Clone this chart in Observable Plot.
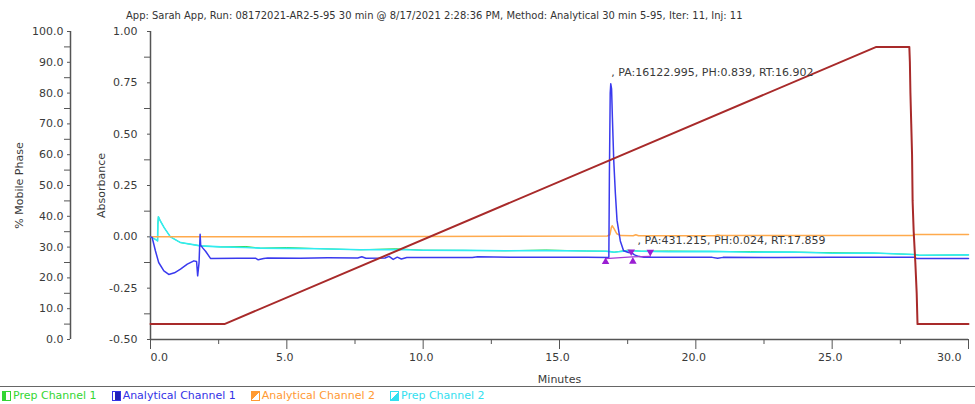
<!DOCTYPE html>
<html>
<head>
<meta charset="utf-8">
<script src="https://cdn.jsdelivr.net/npm/d3@7"></script>
<script src="https://cdn.jsdelivr.net/npm/@observablehq/plot@0.6"></script>
<style>
  html, body { margin: 0; padding: 0; background: #fff; }
  body { width: 975px; height: 404px; position: relative; overflow: hidden; font-family: "DejaVu Sans", sans-serif; }
  #title { position: absolute; left: 126px; top: 0; height: 24px; line-height: 32px; white-space: nowrap; color: #333; font-size: 11px; }
  #chart { position: absolute; left: 0; top: 24px; }
  #legend { position: absolute; left: 0; top: 386px; width: 975px; height: 18px; border-top: 1.5px solid #666; display: flex; align-items: center; padding-left: 2px; box-sizing: border-box; font-size: 11px; white-space: nowrap; }
  .item { display: inline-flex; align-items: center; margin-right: 15px; }
  .sw { display: inline-block; width: 7px; height: 8px; margin-right: 2px; box-sizing: content-box; }
</style>
</head>
<body>
<div id="title"></div>
<div id="chart"></div>
<div id="legend"></div>
<script>
// ---------- text ----------
const titleText = "App: Sarah App, Run: 08172021-AR2-5-95 30 min @ 8/17/2021 2:28:36 PM, Method: Analytical 30 min 5-95, Iter: 11, Inj: 11";

// ---------- ticks ----------
const xMajorTicks = [0, 5, 10, 15, 20, 25, 30];
const xMinorTicks = [2.5, 7.5, 12.5, 17.5, 22.5, 27.5];
const absMajorTicks = [-0.5, -0.25, 0, 0.25, 0.5, 0.75, 1.0];
const absMinorTicks = [-0.375, -0.125, 0.125, 0.375, 0.625, 0.875];
const mpMajorTicks = [0, 10, 20, 30, 40, 50, 60, 70, 80, 90, 100];
const mpMinorTicks = [5, 15, 25, 35, 45, 55, 65, 75, 85, 95];

// ---------- % Mobile Phase (gradient) ----------
const mpTime  = [0, 2.71, 26.62, 27.83, 27.85, 27.87, 27.90, 27.93, 27.95, 27.99, 28.05, 28.10, 28.13, 30.0];
const mpValue = [5, 5, 95, 95, 90, 80, 70, 60, 45, 35, 25, 15, 5, 5];

// ---------- Analytical Channel 1 (blue) ----------
const blueTime  = [0, 0.06, 0.18, 0.30, 0.49, 0.67, 0.88, 1.10, 1.35, 1.59, 1.69, 1.73, 1.78, 1.82, 1.84, 1.86, 1.92, 2.02, 2.20,
  3.20, 3.85, 3.95, 4.15, 4.30, 5.50, 6.50, 7.60, 7.75, 7.90, 8.60, 8.75, 8.90, 9.05, 9.20, 9.40, 10.5, 11.8, 12.0, 13.5, 15.0, 16.0,
  16.78, 16.81, 16.83, 16.86, 16.88, 16.91, 16.94, 16.99, 17.05, 17.11, 17.23, 17.35, 17.53, 17.65, 17.75, 17.90, 18.10,
  19.5, 20.6, 20.8, 21.0, 23.0, 25.0, 27.0, 28.0, 28.1, 30.0];
const blueValue = [0, -0.003, -0.068, -0.125, -0.166, -0.183, -0.175, -0.157, -0.133, -0.117, -0.120, -0.190, -0.127, 0.013, -0.040, -0.044, -0.055, -0.070, -0.105,
  -0.104, -0.104, -0.112, -0.106, -0.103, -0.104, -0.102, -0.103, -0.097, -0.104, -0.103, -0.095, -0.110, -0.099, -0.108, -0.101, -0.101, -0.101, -0.097, -0.100, -0.099, -0.100,
  -0.101, -0.100, 0.300, 0.700, 0.745, 0.720, 0.580, 0.370, 0.210, 0.080, -0.020, -0.068, -0.076, -0.078, -0.088, -0.095, -0.100,
  -0.100, -0.100, -0.104, -0.100, -0.101, -0.100, -0.100, -0.100, -0.105, -0.105];

// ---------- Analytical Channel 2 (orange) ----------
const orangeTime  = [0, 5, 10, 16.75, 16.85, 16.90, 16.93, 17.0, 17.1, 17.25, 17.7, 17.8, 17.9, 20.7, 20.8, 20.9, 27.95, 28.0, 30];
const orangeValue = [0, 0.001, 0.002, 0.004, 0.010, 0.045, 0.054, 0.040, 0.015, 0.006, 0.005, 0.010, 0.005, 0.005, 0.009, 0.006, 0.006, 0.011, 0.011];

// ---------- Prep Channel 2 (cyan) ----------
const cyanTime  = [0, 0.15, 0.26, 0.27, 0.29, 0.35, 0.50, 0.73, 1.10, 1.83, 2.57, 3.50, 4.03, 5.00, 6.23, 7.70, 9.00, 10.0, 11.5, 13.0, 14.5, 16.0, 16.7, 16.85, 17.0, 17.5, 18.0, 19.0, 20.5, 22.0, 23.5, 25.0, 26.5, 28.0, 28.2, 30.0];
const cyanValue = [0, -0.010, -0.020, 0.060, 0.098, 0.080, 0.045, 0.000, -0.028, -0.044, -0.049, -0.052, -0.055, -0.056, -0.058, -0.063, -0.062, -0.065, -0.066, -0.068, -0.067, -0.069, -0.070, -0.072, -0.075, -0.068, -0.070, -0.072, -0.071, -0.075, -0.074, -0.080, -0.079, -0.086, -0.090, -0.088];

// ---------- Prep Channel 1 (green, nearly identical, hidden under cyan) ----------
const greenTime  = [0, 0.15, 0.26, 0.27, 0.29, 0.35, 0.50, 0.73, 1.10, 1.83, 2.57, 3.50, 4.03, 5.00, 6.23, 7.70, 9.00, 10.0, 11.5, 13.0, 14.5, 16.0, 16.7, 16.85, 17.0, 17.5, 18.0, 19.0, 20.5, 22.0, 23.5, 25.0, 26.5, 28.0, 28.2, 30.0];
const greenValue = [0, -0.010, -0.020, 0.060, 0.098, 0.080, 0.045, 0.000, -0.028, -0.044, -0.049, -0.047, -0.055, -0.052, -0.058, -0.063, -0.058, -0.065, -0.066, -0.068, -0.064, -0.069, -0.070, -0.072, -0.075, -0.065, -0.070, -0.069, -0.071, -0.072, -0.074, -0.077, -0.079, -0.086, -0.090, -0.088];

// ---------- peak baseline events (purple) ----------
const baseTime  = [16.69, 17.66, 18.33];
const baseValue = [-0.106, -0.098, -0.095];
const upMarkTime = [16.69, 17.69];
const upMarkValue = [-0.122, -0.120];
const downMarkTime = [17.63, 18.33];
const downMarkValue = [-0.072, -0.074];

// ---------- annotations ----------
const annTime  = [16.902, 17.859];
const annValue = [0.80, -0.016];
const annText  = [", PA:16122.995, PH:0.839, RT:16.902", ", PA:431.215, PH:0.024, RT:17.859"];

// ---------- legend ----------
const legendNames  = ["Prep Channel 1", "Analytical Channel 1", "Analytical Channel 2", "Prep Channel 2"];
const legendColors = ["#33d633", "#3333e6", "#ff9a33", "#33e0f0"];

// ---------- build ----------
const toAbs = p => -0.5 + p * 0.015;
const series = (t, v) => t.map((x, i) => ({t: x, v: v[i]}));
const mpData = mpTime.map((x, i) => ({t: x, v: toAbs(mpValue[i])}));
const axisColor = "#555";

const chart = Plot.plot({
  width: 975,
  height: 362,
  marginLeft: 150,
  marginRight: 7,
  marginTop: 7,
  marginBottom: 47,
  style: {fontFamily: "DejaVu Sans, sans-serif", fontSize: "11px", color: "#3a3a3a", background: "#fff", overflow: "visible"},
  x: {domain: [0, 30]},
  y: {domain: [-0.5, 1.0]},
  marks: [
    // axis lines
    Plot.ruleX([0], {stroke: axisColor, strokeWidth: 1.5}),
    Plot.ruleX([0], {stroke: axisColor, strokeWidth: 1.5, dx: -80}),
    Plot.ruleY([-0.5], {stroke: axisColor, strokeWidth: 1.5}),
    // absorbance axis
    Plot.axisY(absMajorTicks, {anchor: "left", tickSize: 3, tickPadding: 10, tickFormat: d => d.toFixed(2), stroke: axisColor,
      label: "Absorbance", labelAnchor: "center", labelOffset: 53, labelArrow: "none"}),
    Plot.axisY(absMinorTicks, {anchor: "left", tickSize: 6, fill: "none", stroke: axisColor, label: null}),
    // % mobile phase axis
    Plot.axisY(mpMajorTicks.map(toAbs), {anchor: "left", dx: -80, tickSize: 3, tickPadding: 4, stroke: axisColor,
      tickFormat: d => ((d + 0.5) / 0.015).toFixed(1),
      label: "% Mobile Phase", labelAnchor: "center", labelOffset: 135, labelArrow: "none"}),
    Plot.axisY(mpMinorTicks.map(toAbs), {anchor: "left", dx: -80, tickSize: 6, fill: "none", stroke: axisColor, label: null}),
    // x axis
    Plot.axisX(xMajorTicks, {anchor: "bottom", tickSize: 10, fill: "none", stroke: axisColor, label: null}),
    Plot.axisX(xMinorTicks, {anchor: "bottom", tickSize: 5, fill: "none", stroke: axisColor, label: null}),
    Plot.axisX(xMajorTicks.slice(1, -1), {anchor: "bottom", tickSize: 0, tickPadding: 14, dx: -2, tickFormat: d => d.toFixed(1),
      label: "Minutes", labelAnchor: "center", labelOffset: 43, labelArrow: "none"}),
    Plot.axisX(xMajorTicks.slice(0, 1), {anchor: "bottom", tickSize: 0, tickPadding: 14, textAnchor: "start", tickFormat: d => d.toFixed(1), label: null}),
    Plot.axisX(xMajorTicks.slice(-1), {anchor: "bottom", tickSize: 0, tickPadding: 14, textAnchor: "end", dx: -7, tickFormat: d => d.toFixed(1), label: null}),
    // traces
    Plot.line(series(greenTime, greenValue), {x: "t", y: "v", stroke: legendColors[0], strokeWidth: 1}),
    Plot.line(series(cyanTime, cyanValue), {x: "t", y: "v", stroke: "#30ecf2", strokeWidth: 1.6}),
    Plot.line(series(orangeTime, orangeValue), {x: "t", y: "v", stroke: "#ffaa4d", strokeWidth: 1.5}),
    Plot.line(series(blueTime, blueValue), {x: "t", y: "v", stroke: "#3a3aee", strokeWidth: 1.5}),
    // baseline events
    Plot.line(series(baseTime, baseValue), {x: "t", y: "v", stroke: "#a23ad6", strokeWidth: 1.2}),
    Plot.dot(series(upMarkTime, upMarkValue), {x: "t", y: "v", symbol: "triangle", r: 2.8, fill: "#9a1ed2", stroke: "none"}),
    Plot.dot(series(downMarkTime, downMarkValue), {x: "t", y: "v", symbol: "triangle", rotate: 180, r: 2.8, fill: "#9a1ed2", stroke: "none"}),
    // gradient on top
    Plot.line(mpData, {x: "t", y: "v", stroke: "#a82a2a", strokeWidth: 2}),
    // annotations
    Plot.text(annText.map((s, i) => ({t: annTime[i], v: annValue[i], s})), {x: "t", y: "v", text: "s", textAnchor: "start", fill: "#3a3a3a"})
  ]
});
document.getElementById("chart").append(chart);

// title, fitted to the reference width
const title = document.getElementById("title");
title.textContent = titleText;
const w = title.getBoundingClientRect().width;
title.style.fontSize = (11 * 617 / w).toFixed(2) + "px";

// legend
const swatchBg = [
  `linear-gradient(to right, ${legendColors[0]} 45%, #fff 45%)`,
  `linear-gradient(to right, #fff 35%, #2222bb 35%)`,
  `linear-gradient(to bottom right, ${legendColors[2]} 50%, #fff 50%)`,
  `linear-gradient(to bottom right, #fff 50%, ${legendColors[3]} 50%)`
];
const legend = document.getElementById("legend");
legendNames.forEach((name, i) => {
  const item = document.createElement("span");
  item.className = "item";
  item.style.color = legendColors[i];
  const sw = document.createElement("span");
  sw.className = "sw";
  sw.style.border = `1px solid ${legendColors[i]}`;
  sw.style.background = swatchBg[i];
  item.append(sw, document.createTextNode(name));
  legend.append(item);
});
</script>
</body>
</html>
